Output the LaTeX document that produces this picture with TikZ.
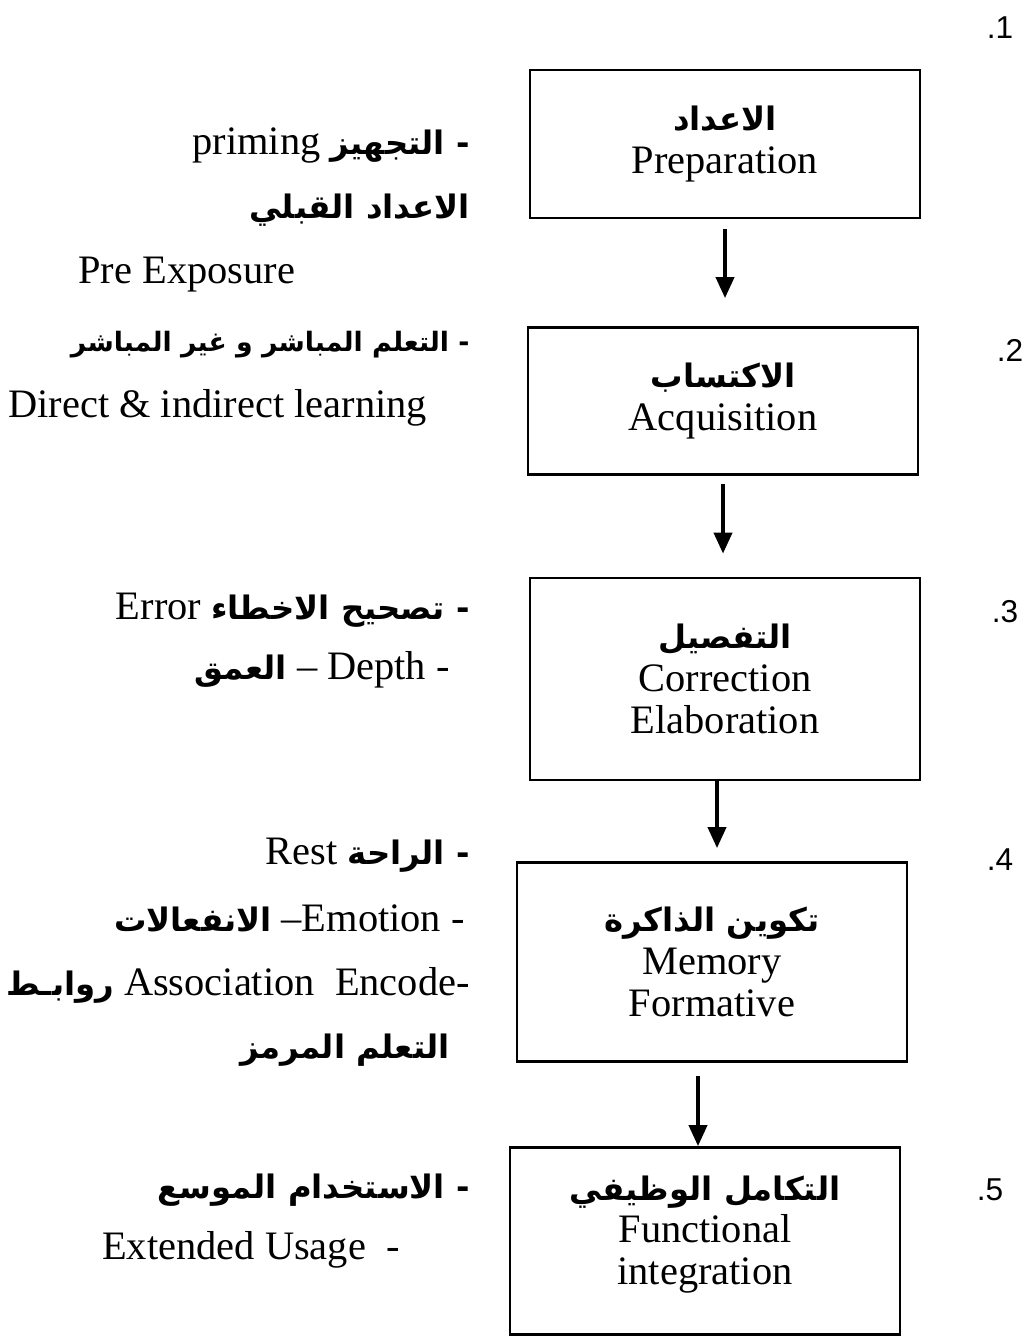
\documentclass[tikz,border=0pt]{standalone}
\usepackage{fontspec}
\setmainfont{Liberation Serif}
\newfontfamily\arabicfont[Script=Arabic,Scale=0.8]{DejaVu Sans}
\newfontfamily\numfont{Liberation Sans}
\TeXXeTstate=1
\usetikzlibrary{positioning,arrows.meta}
\newcommand{\ar}[1]{{\arabicfont\bfseries #1}}
\newcommand{\en}[1]{\beginL #1\endL}
\tikzstyle{block} = [rectangle, draw, line width=1.6pt, align=center, minimum width=7.8cm, font=\fontsize{23}{24}\selectfont]
\tikzstyle{note} = [anchor=east, inner sep=0pt, font=\fontsize{23}{26}\selectfont]
\tikzstyle{flow} = [line width=2.2pt, -{Triangle[width=0.36cm,length=0.42cm]}]
\tikzstyle{stepnum} = [font=\numfont\fontsize{18}{20}\selectfont]

\begin{document}
\begin{tikzpicture}[x=0.02cm, y=-0.02cm]
\useasboundingbox (0,0) rectangle (1031,1344);
% stages
\node[block, minimum height=2.96cm] (prep) at (725,144) {\beginR\ar{الاعداد}\endR\\ Preparation};
\node[block, minimum height=2.94cm] (acq) at (723,401) {\beginR\ar{الاكتساب}\endR\\ Acquisition};
\node[block, minimum height=4.04cm] (elab) at (725,679) {\beginR\ar{التفصيل}\endR\\ Correction\\ Elaboration};
\node[block, minimum height=3.98cm] (memo) at (712,962) {\beginR\ar{تكوين الذاكرة}\endR\\ Memory\\ Formative};
\node[block, minimum height=3.74cm] (integ) at (705,1241) {\beginR\ar{التكامل الوظيفي}\endR\\ Functional\\ integration\\[-12pt]};
\draw[flow, shorten <=0.2cm, shorten >=0.56cm] (prep.south) -- (prep.south |- acq.north);
\draw[flow, shorten <=0.16cm, shorten >=0.46cm] (acq.south) -- (acq.south |- elab.north);
\draw[flow, shorten >=0.26cm] ([xshift=-0.16cm]elab.south) -- ([xshift=-0.16cm]elab.south |- memo.north);
\draw[flow, shorten <=0.26cm] ([xshift=-0.28cm]memo.south) -- ([xshift=-0.28cm]memo.south |- integ.north);
% step numbers
\foreach \n/\x/\y in {1/1000/28, 2/1010/350, 3/1005/612, 4/1000/860, 5/990/1190}
  \node[stepnum] (num\n) at (\x,\y) {.\n};
% side notes
\node[note] (priming) at (470,145) {\beginR\ar{- التجهيز} \en{priming}\endR};
\node[note] (preprep) at (470,210) {\beginR\ar{الاعداد القبلي}\endR};
\node[note, anchor=west] (preexp) at (78,275) {Pre Exposure};
\node[note, font=\fontsize{19}{24}\selectfont] (direct) at (470,345) {\beginR\ar{- التعلم المباشر و غير المباشر}\endR};
\node[note, anchor=west] (directen) at (8,408) {Direct \& indirect learning};
\node[note] (error) at (470,610) {\beginR\ar{- تصحيح الاخطاء} \en{Error}\endR};
\node[note] (depth) at (450,670) {\beginR\en{-} \en{Depth} \en{–} \ar{العمق}\endR};
\node[note] (rest) at (470,855) {\beginR\ar{- الراحة} \en{Rest}\endR};
\node[note] (emotion) at (465,918) {\beginR\en{-} \en{–Emotion} \ar{الانفعالات}\endR};
\node[note] (assoc) at (470,985) {\beginR\en{Association\ \ Encode-} \ar{روابـط}\endR};
\node[note] (coded) at (450,1050) {\beginR\ar{التعلم المرمز}\endR};
\node[note] (usage) at (470,1190) {\beginR\ar{- الاستخدام الموسع}\endR};
\node[note] (usageen) at (400,1250) {Extended Usage\ \ -};
\end{tikzpicture}
\end{document}
